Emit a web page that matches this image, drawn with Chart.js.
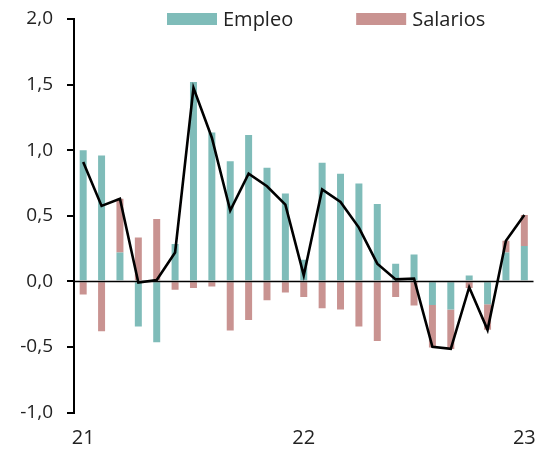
<!DOCTYPE html>
<html>
<head>
<meta charset="utf-8">
<script src="https://cdn.jsdelivr.net/npm/chart.js@4.4.1/dist/chart.umd.min.js"></script>
<style>
  html, body { margin: 0; padding: 0; background: #fff; }
  #wrap { position: relative; width: 550px; height: 451px; }
</style>
</head>
<body>
<div id="wrap"><canvas id="grafico"></canvas></div>
<script>
// --- DATOS (variación mensual, %) ---
const meses = [
    '2021-01', '2021-02', '2021-03', '2021-04', '2021-05', '2021-06',
    '2021-07', '2021-08', '2021-09', '2021-10', '2021-11', '2021-12',
    '2022-01', '2022-02', '2022-03', '2022-04', '2022-05', '2022-06',
    '2022-07', '2022-08', '2022-09', '2022-10', '2022-11', '2022-12',
    '2023-01'
];
const empleo = [
    1.00, 0.96, 0.22, -0.345, -0.465, 0.285, 1.52, 1.135, 0.915, 1.115, 0.865, 0.67,
    0.165, 0.905, 0.82, 0.745, 0.59, 0.135, 0.205, -0.18, -0.215, 0.045, -0.175, 0.22,
    0.27
];
const salarios = [
    -0.10, -0.38, 0.41, 0.335, 0.475, -0.065, -0.05, -0.04, -0.375, -0.295, -0.145, -0.085,
    -0.12, -0.205, -0.215, -0.345, -0.455, -0.12, -0.185, -0.325, -0.30, -0.05, -0.195, 0.09,
    0.235
];
const total = [
    0.91, 0.575, 0.63, -0.01, 0.01, 0.22, 1.475, 1.095, 0.54, 0.82, 0.725, 0.585,
    0.045, 0.70, 0.605, 0.41, 0.135, 0.015, 0.02, -0.50, -0.515, -0.045, -0.37, 0.31,
    0.505
];
const yTicks = { min: -1, max: 2, step: 0.5 };

const COR_EMPLEO = '#7fbcb9';
const COR_SALARIOS = '#c99391';
const FONTE = '"Open Sans", "Noto Sans", sans-serif';

// Linha do zero: desenhada por cima das barras e por baixo da linha total
const linhaZero = {
    id: 'linhaZero',
    beforeDatasetDraw(chart, args) {
        if (args.index !== 2) return;
        const { ctx, chartArea, scales: { y } } = chart;
        const py = Math.round(y.getPixelForValue(0)) + 0.5;
        ctx.save();
        ctx.strokeStyle = '#000';
        ctx.lineWidth = 1.6;
        ctx.beginPath();
        ctx.moveTo(chartArea.left, py);
        ctx.lineTo(chartArea.right, py);
        ctx.stroke();
        ctx.restore();
    }
};

// Legenda dentro da área do gráfico (só as barras)
const legendaTopo = {
    id: 'legendaTopo',
    afterDraw(chart) {
        const { ctx } = chart;
        const o = chart.options.plugins.legendaTopo;
        ctx.save();
        ctx.font = o.fontSize + 'px ' + FONTE;
        ctx.textBaseline = 'middle';
        ctx.textAlign = 'left';
        let x = o.x;
        chart.data.datasets.filter(d => d.type === 'bar').forEach(d => {
            ctx.fillStyle = d.backgroundColor;
            ctx.fillRect(x, o.y - o.boxH / 2, o.boxW, o.boxH);
            x += o.boxW + o.gapTexto;
            ctx.fillStyle = '#222';
            ctx.fillText(d.label, x, o.y + 1);
            x += ctx.measureText(d.label).width + o.gapItem;
        });
        ctx.restore();
    }
};

new Chart(document.getElementById('grafico'), {
    data: {
        labels: meses,
        datasets: [
            { type: 'bar', label: 'Empleo', data: empleo, backgroundColor: COR_EMPLEO, order: 1 },
            { type: 'bar', label: 'Salarios', data: salarios, backgroundColor: COR_SALARIOS, order: 1 },
            {
                type: 'line', label: 'Total', data: total,
                borderColor: '#000', borderWidth: 2.6, pointRadius: 0,
                tension: 0, fill: false, order: 0
            }
        ]
    },
    options: {
        responsive: true,
        maintainAspectRatio: false,
        animation: false,
        layout: { padding: { top: 19, right: 12, bottom: 0, left: 0 } },
        datasets: {
            bar: { barPercentage: 0.38, categoryPercentage: 1, borderWidth: 0 }
        },
        plugins: {
            legend: { display: false },
            tooltip: { enabled: false },
            legendaTopo: { x: 167, y: 19, boxW: 50, boxH: 12, gapTexto: 6, gapItem: 63, fontSize: 20 }
        },
        scales: {
            x: {
                stacked: true,
                offset: true,
                border: { display: false },
                grid: { display: false, drawTicks: false },
                ticks: {
                    autoSkip: false,
                    maxRotation: 0,
                    padding: 14,
                    color: '#222',
                    font: { family: FONTE, size: 20 },
                    callback: function (v, i) {
                        const m = meses[i];
                        return m.endsWith('-01') ? m.slice(2, 4) : '';
                    }
                },
                afterFit: (scale) => { scale.height = 38.5; }
            },
            y: {
                stacked: true,
                min: yTicks.min,
                max: yTicks.max,
                border: { display: true, color: '#000', width: 2 },
                grid: {
                    drawOnChartArea: false,
                    tickColor: '#000',
                    tickLength: 7,
                    lineWidth: 2
                },
                ticks: {
                    stepSize: yTicks.step,
                    padding: 14,
                    color: '#222',
                    font: { family: FONTE, size: 19 },
                    callback: (v) => v.toFixed(1).replace('.', ',')
                },
                afterFit: (scale) => {
                    scale.width = 74;
                    scale.paddingTop = 10;
                    scale.paddingBottom = 10;
                }
            }
        }
    },
    plugins: [linhaZero, legendaTopo]
});
</script>
</body>
</html>
